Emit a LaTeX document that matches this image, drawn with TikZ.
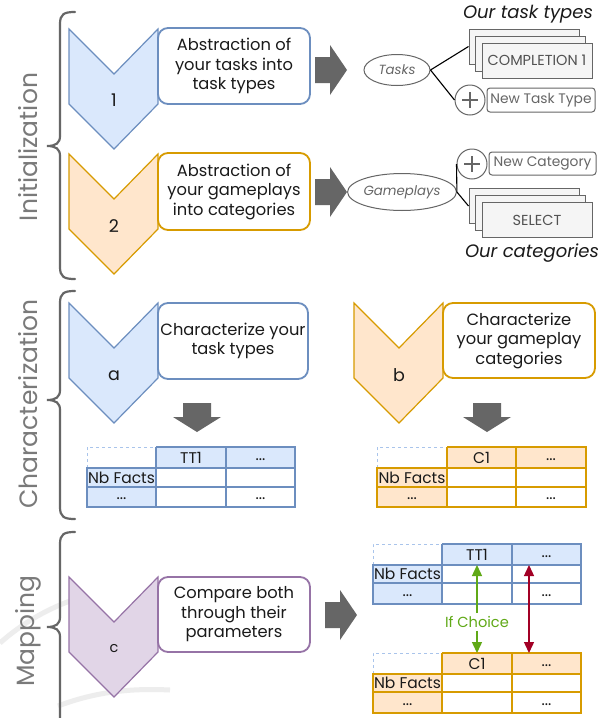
\documentclass[tikz,border=0pt]{standalone}
\usepackage{fontspec}
\setmainfont{Poppins}
\usetikzlibrary{arrows.meta,shapes.geometric,calc}
\definecolor{bluefill}{HTML}{DAE8FC}
\definecolor{bluedraw}{HTML}{6C8EBF}
\definecolor{orfill}{HTML}{FFE6CC}
\definecolor{ordraw}{HTML}{D79B00}
\definecolor{pufill}{HTML}{E1D5E7}
\definecolor{pudraw}{HTML}{9673A6}
\definecolor{darkg}{HTML}{666666}
\definecolor{sectg}{HTML}{7A7A7A}
\definecolor{lightg}{HTML}{F5F5F5}
\definecolor{greenarr}{HTML}{60A917}
\definecolor{redarr}{HTML}{A20025}
\definecolor{dashblue}{HTML}{A9C4EB}
\definecolor{txt}{HTML}{1A1A1A}

\newcommand\chevron[4]{%
  \draw[#4, fill=#3, line width=1.2pt, line join=miter]
    (#1,#2) -- ++(45,45) -- ++(44,-45) -- ++(0,75) -- ++(-44,45) -- ++(-45,-45) -- cycle;}
\newcommand\rarrow[2]{%
  \fill[darkg] (#1-32,#2-13) -- (#1-17,#2-13) -- (#1-17,#2-25) -- (#1,#2)
    -- (#1-17,#2+25) -- (#1-17,#2+13) -- (#1-32,#2+13) -- cycle;}
\newcommand\darrow[2]{%
  \fill[darkg] (#1-14,#2-29) -- (#1+14,#2-29) -- (#1+14,#2-15) -- (#1+24,#2-15)
    -- (#1,#2) -- (#1-24,#2-15) -- (#1-14,#2-15) -- cycle;}
\newcommand\mybrace[3]{%
  \draw[bracestyle] (75,#1) .. controls (64,#1) and (60,#1+2) .. (60,#1+12)
    -- (60,#2-10) .. controls (60,#2-3) and (56,#2) .. (47,#2)
    .. controls (56,#2) and (60,#2+3) .. (60,#2+10)
    -- (60,#3-12) .. controls (60,#3-2) and (64,#3) .. (75,#3);}
% table: name, x0..x3, y0..y3, fill, draw, header
\newcommand\mktable[9]{%
  \def\xa{#2}\def\xb{#3}\def\xc{#4}\def\xd{#5}%
  \def\ya{#6}\def\yb{#7}\def\yc{#8}\def\yd{#9}%
  \mktableb{#1}}
\newcommand\mktableb[4]{%
  \fill[#2] (\xb,\ya) rectangle (\xd,\yb);
  \fill[#2] (\xa,\yb) rectangle (\xb,\yd);
  \draw[dashblue, dashed, line width=1pt] (\xa,\yb) -- (\xa,\ya) -- (\xb,\ya);
  \draw[#3, line width=1.4pt] (\xb,\ya) -- (\xd,\ya) -- (\xd,\yd) -- (\xa,\yd) -- (\xa,\yb) -- (\xd,\yb)
    (\xa,\yc) -- (\xd,\yc) (\xb,\ya) -- (\xb,\yd) (\xc,\ya) -- (\xc,\yd);
  \node[celltext] (#1-h1) at ({(\xb+\xc)/2},{(\ya+\yb)/2}) {#4};
  \node[celltext] (#1-h2) at ({(\xc+\xd)/2},{(\ya+\yb)/2+2}) {...};
  \node[celltext] (#1-r1) at ({(\xa+\xb)/2},{(\yb+\yc)/2}) {Nb Facts};
  \node[celltext] (#1-r2) at ({(\xa+\xb)/2},{(\yc+\yd)/2+2}) {...};
  \node[celltext] (#1-c) at ({(\xc+\xd)/2},{(\yc+\yd)/2+2}) {...};}

\begin{document}
\begin{tikzpicture}[x=1pt,y=-1pt,
  stepbox/.style={draw, line width=1.8pt, rounded corners=10pt, fill=white,
    minimum width=152pt, minimum height=76pt, align=center, text=txt,
    font=\fontsize{16.3}{19.5}\selectfont, inner sep=1pt},
  chevlabel/.style={text=txt, font=\fontsize{17.5}{19}\selectfont},
  secttext/.style={rotate=90, text=sectg, font=\fontsize{25}{28}\selectfont},
  bracestyle/.style={draw=darkg, line width=2.2pt, line cap=round},
  stackbox/.style={draw=darkg, fill=lightg, line width=1pt, minimum width=110pt,
    minimum height=35pt, inner sep=0pt, text=darkg!80!black, font=\fontsize{14.5}{16}\selectfont},
  plusc/.style={circle, draw=darkg, line width=1pt, minimum size=30pt, inner sep=0pt, fill=white},
  newbox/.style={draw=darkg, rounded corners=3pt, line width=1pt, minimum height=24pt,
    inner sep=0pt, text=darkg, font=\fontsize{13.8}{15}\selectfont, fill=white},
  ell/.style={ellipse, draw=darkg, line width=1pt, inner sep=0pt, text=darkg,
    font=\fontsize{13.3}{15}\itshape},
  conn/.style={line width=1.1pt, black},
  celltext/.style={text=txt, font=\fontsize{15.5}{17}\selectfont, inner sep=0pt},
  italictitle/.style={text=txt, font=\fontsize{18}{20}\itshape},
]
\useasboundingbox (0,0) rectangle (607,718);
\fill[white] (0,0) rectangle (607,718);

% faint watermark arcs
\draw[black!7, line width=5pt] (0,643) .. controls (20,625) and (45,610) .. (70,601);
\draw[black!7, line width=5pt] (58,706) .. controls (95,692) and (130,688) .. (170,690);

% braces and section labels
\mybrace{12}{146}{279}
\mybrace{291}{400}{519}
\mybrace{532}{627}{820}
\node[secttext] (secI) at (28,147) {Initialization};
\node[secttext] (secC) at (28,404) {Characterization};
\node[secttext] (secM) at (28,631) {Mapping};

% chevrons
\chevron{69}{29}{bluefill}{bluedraw}
\chevron{69}{154}{orfill}{ordraw}
\chevron{69}{303}{bluefill}{bluedraw}
\chevron{354}{303}{orfill}{ordraw}
\chevron{69}{577}{pufill}{pudraw}
\node[chevlabel] (l1) at (114,100) {1};
\node[chevlabel] (l2) at (114,226) {2};
\node[chevlabel] (la) at (114,376) {a};
\node[chevlabel] (lb) at (399,375) {b};
\node[chevlabel, font=\fontsize{14.5}{16}\selectfont] (lc) at (114,649) {c};

% step boxes
\node[stepbox, draw=bluedraw] (box1) at (234,66) {Abstraction of\\your tasks into\\task types};
\node[stepbox, draw=ordraw, minimum height=77pt] (box2) at (234,191.5) {Abstraction of\\your gameplays\\into categories};
\node[stepbox, draw=bluedraw, minimum width=150pt] (boxa) at (233,341) {Characterize your\\task types};
\node[stepbox, draw=ordraw, minimum height=75pt] (boxb) at (519,340.5) {Characterize\\your gameplay\\categories};
\node[stepbox, draw=pudraw, minimum height=75pt] (boxc) at (234,614.5) {Compare both\\through their\\parameters};

% gray arrows
\rarrow{347}{70}
\rarrow{347}{192}
\rarrow{357}{615}
\darrow{197}{432}
\darrow{487}{432}

% initialization details: tasks
\node[ell, minimum width=66pt, minimum height=31pt] (tasks) at (397,70) {Tasks};
\node[stackbox] (s1back) at (524,46.5) {};
\node[stackbox] (s1mid) at (530,53.5) {};
\node[stackbox] (s1front) at (537,60.5) {COMPLETION 1};
\node[plusc] (plus1) at (470,100) {};
\node[newbox, minimum width=108pt] (newtt) at (541,100) {New Task Type};
\draw[conn] (tasks.east) -- (s1back.west);
\draw[conn] (tasks.east) -- (plus1.west);
\node[italictitle] (ourtt) at (528,14) {Our task types};

% gameplays
\node[ell, minimum width=89pt, minimum height=37pt] (games) at (402,192) {Gameplays};
\node[plusc] (plus2) at (472,164) {};
\node[newbox, minimum width=107pt, minimum height=23pt] (newcat) at (542.5,163.5) {New Category};
\node[stackbox] (s2back) at (524,206) {};
\node[stackbox] (s2mid) at (530,213) {};
\node[stackbox] (s2front) at (537,220) {SELECT};
\draw[conn] (games.east) -- (plus2.west);
\draw[conn] (games.east) -- (s2back.west);
\node[italictitle] (ourcat) at (532,253) {Our categories};

% tables
\mktable{ta}{87}{156}{226}{295}{447}{468}{487}{507}{bluefill}{bluedraw}{TT1}
\mktable{tb}{377}{447}{516}{586}{447}{468}{487}{507}{orfill}{ordraw}{C1}
\mktable{tm}{373}{442}{512}{581}{544}{565}{583}{604}{bluefill}{bluedraw}{TT1}
\mktable{tn}{373}{442}{512}{581}{653}{674}{692}{713}{orfill}{ordraw}{C1}

% mapping arrows
\coordinate (gtop) at (477,565);
\coordinate (gbot) at (477,653);
\coordinate (rtop) at (529,565);
\coordinate (rbot) at (529,653);
\node[text=greenarr, font=\fontsize{14.6}{16}\selectfont, inner sep=3pt] (ifc) at (477,622) {If Choice};
\draw[greenarr, line width=1.4pt, -{Triangle[width=10pt,length=11pt]}] (ifc.north) -- (gtop);
\draw[greenarr, line width=1.4pt, -{Triangle[width=10pt,length=11pt]}] (ifc.south) -- (gbot);
\draw[redarr, line width=1.4pt, {Triangle[width=10pt,length=11pt]}-{Triangle[width=10pt,length=11pt]}] (rtop) -- (rbot);

% plus signs
\draw[darkg, line width=1.5pt] (plus1.center) ++(-8,0) -- ++(16,0);
\draw[darkg, line width=1.5pt] (plus1.center) ++(0,-8) -- ++(0,16);
\draw[darkg, line width=1.5pt] (plus2.center) ++(-8,0) -- ++(16,0);
\draw[darkg, line width=1.5pt] (plus2.center) ++(0,-8) -- ++(0,16);
\end{tikzpicture}
\end{document}
